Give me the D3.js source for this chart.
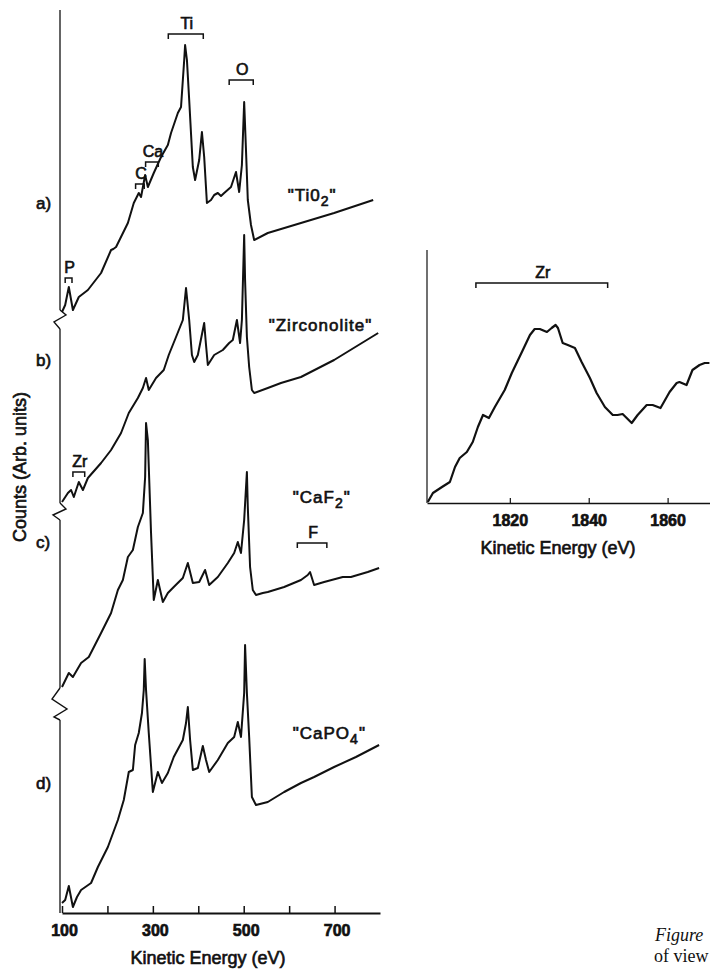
<!DOCTYPE html>
<html>
<head>
<meta charset="utf-8">
<script src="https://cdn.jsdelivr.net/npm/d3@7/dist/d3.min.js"></script>
<style>
  body { margin: 0; background: #fff; }
  svg text { font-family: "Liberation Sans", Arial, sans-serif; fill: #111; stroke: #111; stroke-width: 0.65px; }
  svg text.caption { font-family: "Liberation Serif", "Times New Roman", serif; stroke: none; }
</style>
</head>
<body>
<svg id="chart" width="710" height="969"></svg>
<script>
// Auger spectra: [kinetic energy (eV), counts (arb. units)]
const ti02 = [
  [100, 1], [107, 8], [115, 26], [124, 3], [137, 16], [157, 23], [186, 40], [208, 63], [213, 64], [219, 66],
  [245, 90], [258, 110], [269, 120], [274, 116], [283, 138], [289, 126], [302, 140], [318, 156],
  [333, 168], [340, 180], [355, 200], [362, 206], [369, 253], [371, 268], [375, 253], [380, 213],
  [388, 146], [393, 133], [402, 153], [408, 181], [413, 156], [419, 110], [428, 113], [435, 118], [443, 120],
  [450, 117], [457, 120], [472, 126], [483, 141], [490, 121], [496, 148], [501, 211], [505, 163], [509, 113],
  [516, 88], [523, 73], [553, 80], [626, 90], [699, 100], [785, 113]
];
const zirconolite = [
  [100, 1], [113, 10], [120, 13], [126, 6], [137, 21], [146, 13], [157, 25], [186, 40], [208, 53],
  [230, 70], [247, 90], [267, 105], [278, 115], [285, 125], [291, 113], [307, 125], [324, 133],
  [335, 148], [351, 166], [366, 183], [373, 215], [380, 183], [386, 148], [391, 141], [399, 148],
  [413, 180], [417, 158], [421, 138], [435, 148], [454, 153], [468, 160], [476, 163], [485, 183],
  [492, 160], [496, 183], [501, 268], [503, 223], [507, 166], [512, 136], [518, 113], [523, 110],
  [553, 115], [582, 120], [626, 126], [699, 143], [796, 170]
];
const caf2 = [
  [100, 1], [115, 15], [124, 11], [142, 25], [159, 31], [186, 55], [208, 75], [223, 98], [234, 108],
  [245, 131], [256, 138], [267, 161], [278, 175], [283, 211], [285, 265], [289, 248], [296, 155],
  [302, 88], [311, 108], [322, 86], [333, 95], [346, 101], [366, 110], [377, 125], [388, 105],
  [402, 106], [415, 118], [424, 103], [443, 111], [465, 125], [479, 135], [487, 146], [494, 135],
  [501, 168], [507, 216], [509, 181], [514, 121], [520, 98], [527, 93], [542, 95], [553, 96],
  [589, 101], [626, 108], [641, 113], [646, 116], [655, 103], [677, 106], [718, 111], [736, 111],
  [773, 116], [798, 120]
];
const capo4 = [
  [100, 10], [107, 13], [115, 27], [124, 6], [133, 16], [142, 23], [164, 30], [179, 46], [201, 66],
  [223, 93], [236, 113], [247, 141], [256, 143], [261, 168], [269, 180], [276, 200], [280, 223],
  [282, 254], [285, 223], [291, 180], [300, 121], [311, 141], [320, 130], [333, 140], [346, 156],
  [366, 173], [373, 190], [377, 206], [382, 173], [388, 143], [399, 145], [410, 167], [417, 153],
  [424, 141], [443, 153], [465, 170], [479, 176], [487, 191], [494, 176], [501, 220], [503, 268],
  [507, 220], [512, 176], [518, 116], [527, 108], [553, 111], [589, 121], [626, 130], [655, 136],
  [699, 146], [747, 156], [798, 168]
];
// high-energy Zr window
const zrDetail = [
  [1799.2, 1], [1800.5, 10], [1802.8, 16], [1804.8, 21], [1806.1, 36], [1807.3, 45], [1809.1, 51],
  [1810.6, 61], [1811.9, 76], [1813.2, 88], [1814.7, 85], [1816.2, 96], [1818.7, 113], [1820.5, 130],
  [1823.3, 153], [1825.1, 168], [1826.3, 174], [1827.6, 174], [1829.4, 171], [1830.6, 175],
  [1831.6, 178], [1832.2, 175], [1833.4, 160], [1834.7, 158], [1836.5, 155], [1838.2, 141],
  [1840.3, 125], [1842.0, 110], [1844.1, 96], [1846.1, 88], [1847.3, 88], [1848.6, 89], [1850.9, 80],
  [1852.4, 88], [1854.7, 98], [1856.2, 98], [1858.2, 95], [1860.5, 111], [1862.3, 120], [1863.0, 121],
  [1864.8, 118], [1866.3, 133], [1868.1, 138], [1869.4, 140], [1870.6, 140]
];

const spectra = [ti02, zirconolite, caf2, capo4];
const panelLabels = ["a)", "b)", "c)", "d)"];
const sampleNames = [["\"Ti0", "2", "\""], ["\"Zirconolite\"", "", ""], ["\"CaF", "2", "\""], ["\"CaPO", "4", "\""]];
const offsets = [600, 410, 225, 0];              // vertical offset of each spectrum (arb. units)
const energyTicks = [100, 200, 300, 400, 500, 600, 700];
const energyLabels = [100, 300, 500, 700];
const zrTicks = [1820, 1840, 1860];
// element markers: [label, from eV, to eV, level]
const peakMarks = [
  ["Ti", 334, 411, 879], ["O", 468, 521, 833], ["Ca", 284, 312, 751], ["C", 262, 281, 729],
  ["P", 107, 122, 635], ["Zr", 124, 150, 441], ["F", 618, 683, 370]
];
const zrMark = ["Zr", 1811.4, 1844.8, 220];

const svg = d3.select("#chart");

// ---- main stacked plot
const x = d3.scaleLinear().domain([100, 800]).range([62, 380]);
const y = d3.scaleLinear().domain([0, 903]).range([913, 10]);

const line = d3.line().x(d => x(d[0]));

spectra.forEach((s, i) => {
  svg.append("path")
    .datum(s)
    .attr("d", line.y(d => y(d[1] + offsets[i])))
    .attr("fill", "none")
    .attr("stroke", "#111")
    .attr("stroke-width", 2)
    .attr("stroke-linejoin", "round");
});

// broken counts axis
const axisX = x(100) - 2;
const axisSegs = [[903, 603], [584, 410], [393, 225], [193, 0]];
axisSegs.forEach(([top, bottom]) => {
  svg.append("line")
    .attr("x1", axisX).attr("x2", axisX)
    .attr("y1", y(top)).attr("y2", y(bottom))
    .attr("stroke", "#111").attr("stroke-width", 1.3);
});
const breaks = [
  { top: 603, pts: [[0, 0], [6, 5], [-6, 12], [0, 19]] },
  { top: 410, pts: [[0, 0], [6, 6], [-7, 12], [0, 17]] },
  { top: 225, pts: [[0, 0], [-8, 11], [7, 21], [-6, 29], [0, 32]] }
];
breaks.forEach(b => {
  svg.append("path")
    .attr("d", d3.line()(b.pts.map(p => [axisX + p[0], y(b.top) + p[1]])))
    .attr("fill", "none").attr("stroke", "#111").attr("stroke-width", 1.4);
});

// energy axis
const xAxis = d3.axisBottom(x)
  .tickValues(energyTicks)
  .tickSizeInner(-7)
  .tickSizeOuter(0)
  .tickPadding(12)
  .tickFormat(d => energyLabels.includes(d) ? d : "");
const gx = svg.append("g").attr("transform", `translate(0,${y(0)})`).call(xAxis);
gx.select(".domain").attr("stroke", "#111").attr("stroke-width", 2);
gx.selectAll(".tick line").attr("stroke", "#111").attr("stroke-width", 1.5);
gx.selectAll("text").attr("font-size", 16).attr("font-weight", "bold").attr("fill", "#111")
  .style("font-family", "'Liberation Sans', Arial, sans-serif").attr("dx", 2);

svg.append("text")
  .attr("x", 208).attr("y", 964)
  .attr("text-anchor", "middle").attr("font-size", 18)
  .text("Kinetic Energy (eV)");

svg.append("text")
  .attr("transform", "translate(26,467) rotate(-90)")
  .attr("text-anchor", "middle").attr("font-size", 18)
  .text("Counts (Arb. units)");

// panel letters
const letterLevels = [710, 553, 371, 130];
panelLabels.forEach((t, i) => {
  svg.append("text")
    .attr("x", 36).attr("y", y(letterLevels[i]) + 6)
    .attr("font-size", 17)
    .text(t);
});

// sample names with subscripts
const nameAnchors = [[597, 718], [555, 588], [608, 416], [608, 180]];
sampleNames.forEach((n, i) => {
  const t = svg.append("text")
    .attr("x", x(nameAnchors[i][0])).attr("y", y(nameAnchors[i][1]) + 6)
    .attr("font-size", 17).attr("letter-spacing", 1);
  t.append("tspan").text(n[0]);
  if (n[1]) t.append("tspan").attr("dy", 5).attr("font-size", 14).text(n[1]);
  if (n[2]) t.append("tspan").attr("dy", n[1] ? -5 : 0).text(n[2]);
});

// element brackets
function bracket(xs, ys, lab, x0, x1, level, drop) {
  const yy = ys(level);
  svg.append("path")
    .attr("d", d3.line()([[xs(x0), yy + drop], [xs(x0), yy], [xs(x1), yy], [xs(x1), yy + drop]]))
    .attr("fill", "none").attr("stroke", "#111").attr("stroke-width", 1.5);
  svg.append("text")
    .attr("x", xs((x0 + x1) / 2) + 1).attr("y", yy - 5)
    .attr("text-anchor", "middle").attr("font-size", 16)
    .text(lab);
}
peakMarks.forEach(m => bracket(x, y, m[0], m[1], m[2], m[3], 5));

// ---- Zr inset
const xi = d3.scaleLinear().domain([1799, 1871]).range([427, 711]);
const yi = d3.scaleLinear().domain([0, 253]).range([503, 250]);

svg.append("path")
  .datum(zrDetail)
  .attr("d", d3.line().x(d => xi(d[0])).y(d => yi(d[1])))
  .attr("fill", "none").attr("stroke", "#111").attr("stroke-width", 2.2)
  .attr("stroke-linejoin", "round");

svg.append("line")
  .attr("x1", xi(1799)).attr("x2", xi(1799))
  .attr("y1", yi(253)).attr("y2", yi(0))
  .attr("stroke", "#111").attr("stroke-width", 1.2);

const xiAxis = d3.axisBottom(xi)
  .tickValues(zrTicks)
  .tickSizeInner(-5)
  .tickSizeOuter(0)
  .tickPadding(12)
  .tickFormat(d3.format("d"));
const gxi = svg.append("g").attr("transform", `translate(0,${yi(0)})`).call(xiAxis);
gxi.select(".domain").attr("stroke", "#111").attr("stroke-width", 1.6);
gxi.selectAll(".tick line").attr("stroke", "#111").attr("stroke-width", 1.2);
gxi.selectAll("text").attr("font-size", 16).attr("font-weight", "bold").attr("fill", "#111")
  .style("font-family", "'Liberation Sans', Arial, sans-serif");

svg.append("text")
  .attr("x", 558).attr("y", 554)
  .attr("text-anchor", "middle").attr("font-size", 18)
  .text("Kinetic Energy (eV)");

bracket(xi, yi, zrMark[0], zrMark[1], zrMark[2], zrMark[3], 5);

// caption fragment at page edge
svg.append("text").attr("class", "caption")
  .attr("x", 655).attr("y", 941).attr("font-size", 18).attr("font-style", "italic")
  .text("Figure");
svg.append("text").attr("class", "caption")
  .attr("x", 654).attr("y", 962).attr("font-size", 18)
  .text("of view");
</script>
</body>
</html>
